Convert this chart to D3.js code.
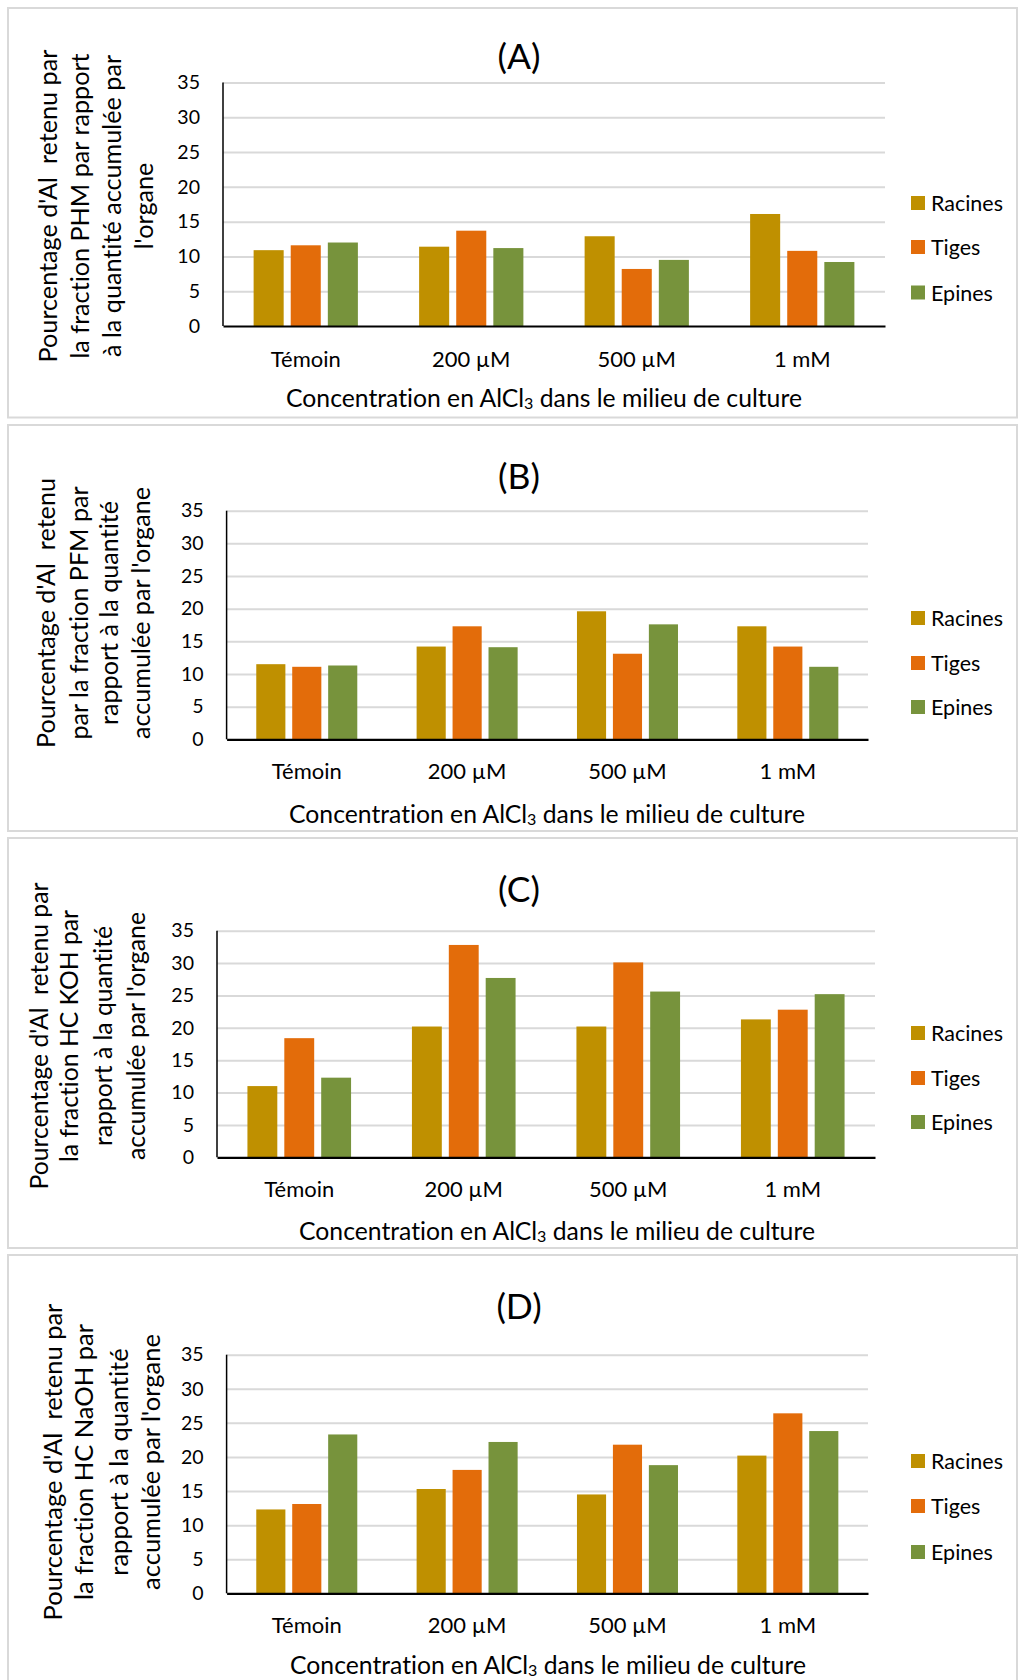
<!DOCTYPE html>
<html>
<head>
<meta charset="utf-8">
<script src="https://cdn.jsdelivr.net/npm/d3@7"></script>
<style>
  html, body { margin: 0; padding: 0; background: #fff; }
  svg { display: block; }
  text { font-family: Lato, "Open Sans", sans-serif; fill: #000; font-variant-ligatures: none; }
</style>
</head>
<body>
<svg id="chart" width="1018" height="1680"></svg>
<script>
// ---------- data ----------
const categories = ["Témoin", "200 µM", "500 µM", "1 mM"];
const seriesNames = ["Racines", "Tiges", "Epines"];
const yTickValues = [0, 5, 10, 15, 20, 25, 30, 35];
const panelTitles = ["(A)", "(B)", "(C)", "(D)"];

const racinesA = [10.9, 11.4, 12.9, 16.1];
const tigesA   = [11.6, 13.7, 8.2, 10.8];
const epinesA  = [12.0, 11.2, 9.5, 9.2];

const racinesB = [11.5, 14.2, 19.6, 17.3];
const tigesB   = [11.1, 17.3, 13.1, 14.2];
const epinesB  = [11.3, 14.1, 17.6, 11.1];

const racinesC = [11.0, 20.2, 20.2, 21.3];
const tigesC   = [18.4, 32.8, 30.1, 22.8];
const epinesC  = [12.3, 27.7, 25.6, 25.2];

const racinesD = [12.3, 15.3, 14.5, 20.2];
const tigesD   = [13.1, 18.1, 21.8, 26.4];
const epinesD  = [23.3, 22.2, 18.8, 23.8];

const yTitlesA = ["Pourcentage d'Al  retenu par", "la fraction PHM par rapport", "à la quantité accumulée par", "l'organe"];
const yTitlesB = ["Pourcentage d'Al  retenu", "par la fraction PFM par", "rapport à la quantité", "accumulée par l'organe"];
const yTitlesC = ["Pourcentage d'Al  retenu par", "la fraction HC KOH par", "rapport à la quantité", "accumulée par l'organe"];
const yTitlesD = ["Pourcentage d'Al  retenu par", "la fraction HC NaOH par", "rapport à la quantité", "accumulée par l'organe"];

const xTitleMain = "Concentration en AlCl";
const xTitleSub = "3";
const xTitleRest = " dans le milieu de culture";

// ---------- styles / layout ----------
const colors = ["#BF9000", "#E36C0A", "#77933C"];
const FF = "Lato, 'Open Sans', sans-serif";

// measured target text widths (px) used to size the fonts
const W_TICK = 22.7, W_CAT = 70, W_XT = 516, W_TITLE = 43, W_LEG = 72;
const W_YT = [313, 270, 307, 317];

const layouts = [
  { boxTop: 8,    boxH: 409.5, left: 223,   right: 885, yTop: 82.5,  yBot: 326,    titleY: 55,   catY: 358,  xtY: 397, xtX: 544, ytX: [47, 79, 111, 143],  ytY: 206,  legY: [203, 247, 292.5] },
  { boxTop: 425,  boxH: 406,   left: 226.6, right: 868, yTop: 510.7, yBot: 739.3,  titleY: 475,  catY: 770.7, xtY: 813, xtX: 547, ytX: [45, 78, 108, 140],  ytY: 613,  legY: [618, 663, 707] },
  { boxTop: 838,  boxH: 410,   left: 217,   right: 875, yTop: 930.7, yBot: 1157.3, titleY: 888,  catY: 1189, xtY: 1230, xtX: 557, ytX: [38, 68, 102, 135], ytY: 1036, legY: [1033, 1078, 1122] },
  { boxTop: 1255, boxH: 440,   left: 226.6, right: 868, yTop: 1354.7, yBot: 1593.3, titleY: 1305, catY: 1625, xtY: 1664, xtX: 548, ytX: [52, 83, 118, 150], ytY: 1462, legY: [1461, 1506, 1552] }
];

const panelSeries = [
  [racinesA, tigesA, epinesA],
  [racinesB, tigesB, epinesB],
  [racinesC, tigesC, epinesC],
  [racinesD, tigesD, epinesD]
];
const panelYTitles = [yTitlesA, yTitlesB, yTitlesC, yTitlesD];

const svg = d3.select("#chart");

// font-size fitting helper
function fitSize(str, target, base) {
  const t = svg.append("text").attr("font-size", base).style("font-family", FF)
    .style("white-space", "pre").text(str);
  const w = t.node().getComputedTextLength();
  t.remove();
  return base * target / w;
}
const sTick = fitSize("35", W_TICK, 20);
const sCat = fitSize("Témoin", W_CAT, 20);
const sTitle = fitSize("(A)", W_TITLE, 28);
const sLeg = fitSize("Racines", W_LEG, 20);

panelSeries.forEach((series, p) => {
  const L = layouts[p];
  const g = svg.append("g");

  // panel border
  g.append("rect")
    .attr("x", 8).attr("y", L.boxTop)
    .attr("width", 1009).attr("height", L.boxH)
    .attr("fill", "#fff").attr("stroke", "#d9d9d9").attr("stroke-width", 2);

  const x0 = d3.scaleBand().domain(categories).range([L.left, L.right])
    .paddingInner(0.37).paddingOuter(0.185);
  const x1 = d3.scaleBand().domain(seriesNames).range([0, x0.bandwidth()])
    .paddingInner(0.19);
  const y = d3.scaleLinear().domain([0, 35]).range([L.yBot, L.yTop]);

  // gridlines
  const grid = d3.axisLeft(y).tickValues(yTickValues.filter(v => v > 0))
    .tickSize(-(L.right - L.left)).tickFormat("");
  g.append("g").attr("transform", `translate(${L.left},0)`).call(grid)
    .call(s => s.select(".domain").remove())
    .call(s => s.selectAll("line").attr("stroke", "#d9d9d9").attr("stroke-width", 2));

  // y axis labels
  const yAxis = d3.axisLeft(y).tickValues(yTickValues).tickSize(0).tickPadding(23)
    .tickFormat(d3.format("d"));
  g.append("g").attr("transform", `translate(${L.left},0)`).call(yAxis)
    .call(s => s.select(".domain").remove())
    .call(s => s.selectAll("text").attr("font-size", sTick)
      .style("font-family", FF).attr("fill", "#000"));

  // bars
  const rows = categories.map((c, i) => ({ cat: c, vals: seriesNames.map((s, k) => ({ s, k, v: series[k][i] })) }));
  g.append("g").selectAll("g").data(rows).join("g")
    .attr("transform", d => `translate(${x0(d.cat)},0)`)
    .selectAll("rect").data(d => d.vals).join("rect")
    .attr("x", d => x1(d.s)).attr("width", x1.bandwidth())
    .attr("y", d => y(d.v)).attr("height", d => y(0) - y(d.v))
    .attr("fill", d => colors[d.k]);

  // y axis line
  g.append("line").attr("x1", L.left).attr("x2", L.left)
    .attr("y1", y(35)).attr("y2", y(0))
    .attr("stroke", "#000").attr("stroke-width", 1.5);

  // x axis
  const xAxis = d3.axisBottom(x0).tickSize(0).tickPadding(0);
  const xg = g.append("g").attr("transform", `translate(0,${y(0)})`).call(xAxis);
  xg.select(".domain").attr("stroke", "#000").attr("stroke-width", 2.2);
  xg.selectAll("text").attr("font-size", sCat)
    .style("font-family", FF).attr("fill", "#000")
    .attr("dy", null).attr("y", L.catY - y(0)).attr("dominant-baseline", "central");

  // title
  g.append("text").attr("x", 519).attr("y", L.titleY)
    .attr("text-anchor", "middle").attr("dominant-baseline", "central")
    .attr("font-size", sTitle).text(panelTitles[p]);

  // x axis title
  const xt = g.append("text").attr("x", L.xtX).attr("y", L.xtY)
    .attr("text-anchor", "middle").attr("dominant-baseline", "central")
    .attr("font-size", 21);
  xt.append("tspan").text(xTitleMain);
  const sub = xt.append("tspan").attr("dy", 5).text(xTitleSub);
  xt.append("tspan").attr("dy", -5).text(xTitleRest);
  sub.attr("font-size", 21 * 0.65);
  const sXt = 21 * W_XT / xt.node().getComputedTextLength();
  xt.attr("font-size", sXt);
  sub.attr("font-size", sXt * 0.65);

  // y axis title
  const sYt = fitSize(panelYTitles[p][0], W_YT[p], 20);
  panelYTitles[p].forEach((line, li) => {
    g.append("text")
      .attr("transform", `translate(${L.ytX[li]},${L.ytY}) rotate(-90)`)
      .attr("text-anchor", "middle").attr("dominant-baseline", "central")
      .attr("font-size", sYt)
      .style("white-space", "pre")
      .text(line);
  });

  // legend
  seriesNames.forEach((s, k) => {
    g.append("rect").attr("x", 911).attr("y", L.legY[k] - 7)
      .attr("width", 14).attr("height", 14).attr("fill", colors[k]);
    g.append("text").attr("x", 931).attr("y", L.legY[k])
      .attr("dominant-baseline", "central").attr("font-size", sLeg).text(s);
  });
});
</script>
</body>
</html>
